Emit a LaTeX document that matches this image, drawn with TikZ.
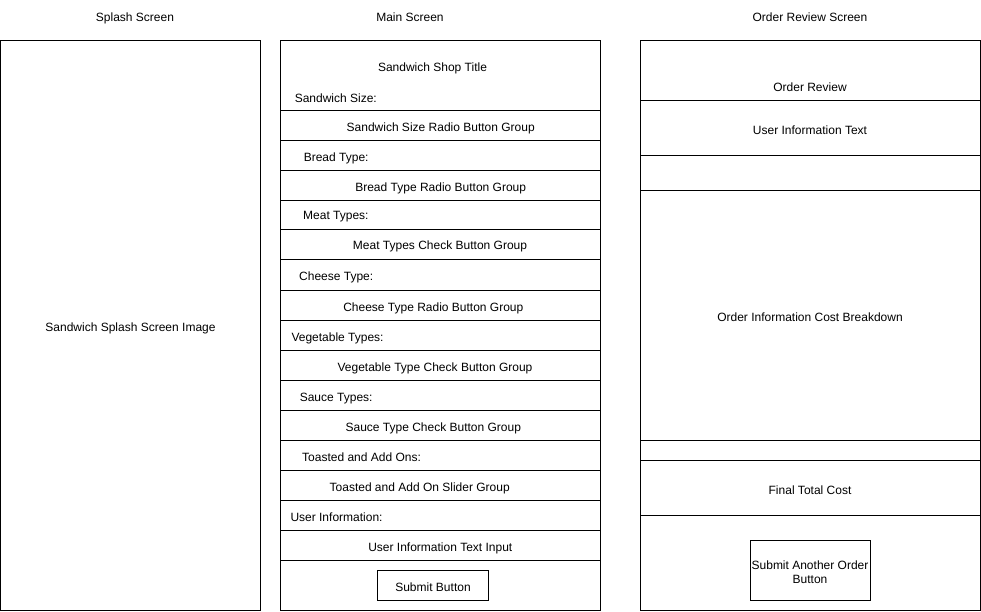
\documentclass[tikz,border=0pt]{standalone}
\usepackage{fontspec}
\setmainfont{Liberation Sans}
\begin{document}
\begin{tikzpicture}[x=1pt,y=-1pt,line width=1pt,
  box/.style={draw=black,line width=1pt},
  txt/.style={anchor=base,inner sep=0pt,font=\fontsize{12}{14}\selectfont},
  ltxt/.style={anchor=base west,inner sep=0pt,font=\fontsize{12}{14}\selectfont}]
\useasboundingbox (0,0) rectangle (981,611);
% headings
\node[txt] (hsplash) at (135,21.3) {Splash Screen};
\node[txt] (hmain) at (410,21.3) {Main Screen};
\node[txt] (hreview) at (810,21.3) {Order Review Screen};
% splash screen
\draw[box] (0.5,40.5) rectangle (260.5,610.5);
\node[txt] (splashimg) at (130.5,331.3) {Sandwich Splash Screen Image};
% main screen
\draw[box] (280.5,40.5) rectangle (600.5,610.5);
\foreach \yy in {110.5,140.5,170.5,200.5,229,259,290.5,320.5,350.5,380.5,410.5,440.5,470.5,500.5,530.5,560.5}
  \draw[box] (280.5,\yy) -- (600.5,\yy);
\node[txt] (title) at (432.5,71) {Sandwich Shop Title};
\node[ltxt] (lsize) at (294.3,102) {Sandwich Size:};
\node[txt] (size) at (440.7,131.6) {Sandwich Size Radio Button Group};
\node[ltxt] (lbread) at (303.3,161.6) {Bread Type:};
\node[txt] (bread) at (440.7,191) {Bread Type Radio Button Group};
\node[ltxt] (lmeat) at (302.7,219.3) {Meat Types:};
\node[txt] (meat) at (440,249.3) {Meat Types Check Button Group};
\node[ltxt] (lcheese) at (298.7,280) {Cheese Type:};
\node[txt] (cheese) at (433.3,311) {Cheese Type Radio Button Group};
\node[ltxt] (lveg) at (291,341) {Vegetable Types:};
\node[txt] (veg) at (435,371) {Vegetable Type Check Button Group};
\node[ltxt] (lsauce) at (299.3,401.6) {Sauce Types:};
\node[txt] (sauce) at (433.3,431.6) {Sauce Type Check Button Group};
\node[ltxt] (ltoast) at (301.7,461.6) {Toasted and Add Ons:};
\node[txt] (toast) at (419.7,491) {Toasted and Add On Slider Group};
\node[ltxt] (luser) at (290,521) {User Information:};
\node[txt] (user) at (440.3,551.3) {User Information Text Input};
\draw[box] (377.5,570.5) rectangle (488.5,600.5);
\node[txt] (submit) at (433,591) {Submit Button};
% order review screen
\draw[box] (640.5,40.5) rectangle (980,610.5);
\foreach \yy in {100.5,155.5,190.5,440.5,460.5,515.5}
  \draw[box] (640.5,\yy) -- (980,\yy);
\node[txt] (oreview) at (810,91.3) {Order Review};
\node[txt] (uinfo) at (810,134.3) {User Information Text};
\node[txt] (cost) at (810,321.3) {Order Information Cost Breakdown};
\node[txt] (final) at (810,494.3) {Final Total Cost};
\draw[box] (750.5,540.5) rectangle (870.5,600.5);
\node[txt] (another1) at (810,569.3) {Submit Another Order};
\node[txt] (another2) at (810,583.3) {Button};
\end{tikzpicture}
\end{document}
